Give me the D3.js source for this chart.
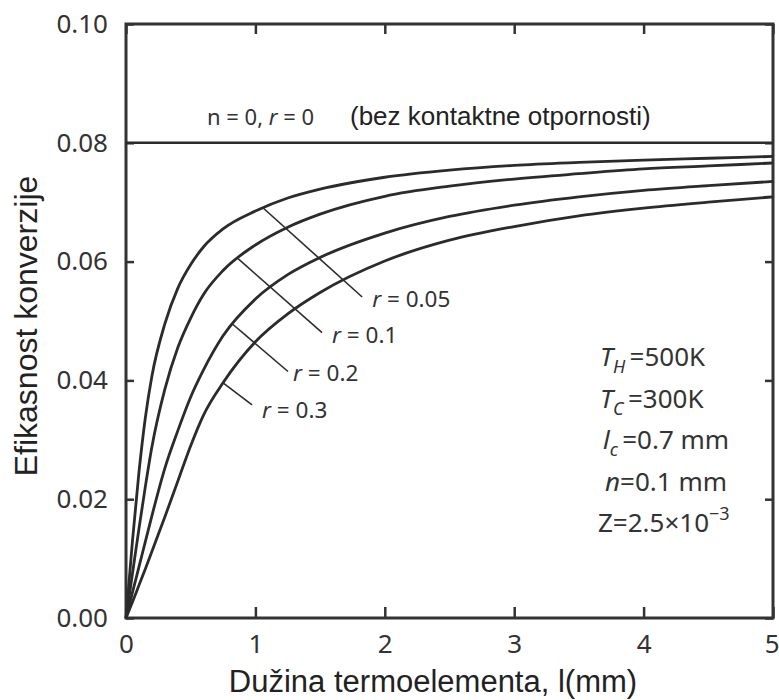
<!DOCTYPE html>
<html>
<head>
<meta charset="utf-8">
<script src="https://cdn.jsdelivr.net/npm/d3@7/dist/d3.min.js"></script>
<style>
	body{margin:0;background:#fff;}
</style>
</head>
<body>
<div id="chart"></div>
<script>

	"use strict";

	// element length l (mm) where the curves were read
	var lengths = [0, 0.05, 0.1, 0.15, 0.2, 0.3, 0.4, 0.5, 0.6, 0.75, 1, 1.25, 1.5, 2, 2.5, 3, 3.5, 4, 4.5, 5];

	// conversion efficiency for each contact resistance ratio r
	var effR005 = [0, 0.013, 0.0245, 0.0338, 0.0407, 0.0495, 0.0555, 0.0595, 0.0625, 0.0655, 0.0685, 0.0707, 0.0722, 0.0742, 0.0754, 0.0762, 0.0767, 0.0771, 0.0774, 0.0777];
	var effR01  = [0, 0.0075, 0.015, 0.0222, 0.0288, 0.0385, 0.0455, 0.0505, 0.0545, 0.0585, 0.0628, 0.0658, 0.0680, 0.0710, 0.0727, 0.0739, 0.0748, 0.0756, 0.0761, 0.0766];
	var effR02  = [0, 0.0043, 0.0086, 0.0129, 0.0172, 0.0252, 0.0315, 0.0372, 0.0418, 0.0475, 0.0537, 0.0578, 0.0607, 0.0648, 0.0676, 0.0695, 0.0709, 0.0720, 0.0728, 0.0735];
	var effR03  = [0, 0.0027, 0.0055, 0.0083, 0.0112, 0.017, 0.023, 0.029, 0.0342, 0.0396, 0.0465, 0.0512, 0.0548, 0.0601, 0.0636, 0.0659, 0.0677, 0.0690, 0.0700, 0.0709];

	var seriesNames = ["0.05", "0.1", "0.2", "0.3"];
	var seriesValues = [effR005, effR01, effR02, effR03];

	// no contact resistance (n = 0, r = 0)
	var effNoContact = 0.08;

	var xTicks = [0, 1, 2, 3, 4, 5];
	var yTicks = [0, 0.02, 0.04, 0.06, 0.08, 0.10];

	var xTitle = "Dužina termoelementa, l(mm)";
	var yTitle = "Efikasnost konverzije";

	// parameter box, pieces: [text, italic, sub/sup]
	var params = [
		[["T", 1], ["H", 1, "sub"], ["\u2009=500K"]],
		[["T", 1], ["C", 1, "sub"], ["\u2009=300K"]],
		[["l", 1], ["c", 1, "sub"], ["\u2009=0.7 mm"]],
		[["n", 1], ["=0.1 mm"]],
		[["Z=2.5×10"], ["\u22123", 0, "sup"]]
	];

	var W = 779, H = 700;
	var pLeft = 126, pRight = 773, pTop = 24, pBottom = 618;
	var ink = "#2b2b2b";
	var myriad = "'Noto Sans', sans-serif";
	var arial = "'Liberation Sans', Arial, sans-serif";

	var svg = d3.select("#chart")
				.append("svg")
				.attr("width", W)
				.attr("height", H);

	var x = d3.scaleLinear().domain([0, 5]).range([pLeft, pRight]);
	var y = d3.scaleLinear().domain([0, 0.1]).range([pBottom, pTop]);

	function styleAxis(g){
		g.select(".domain").remove();
		g.selectAll(".tick line").attr("stroke", "#333").attr("stroke-width", 2.5);
		g.selectAll(".tick text")
			.attr("fill", "#333")
			.style("font-family", myriad)
			.style("font-size", "26px");
	}

	// axes, ticks pointing inward
	var xAxisG = svg.append("g")
		.attr("transform", "translate(0," + pBottom + ")")
		.call(d3.axisBottom(x).tickValues(xTicks).tickSizeInner(-11).tickSizeOuter(0).tickPadding(17).tickFormat(d3.format("d")))
		.call(styleAxis);

	// last label sits on the page edge, keep it inside
	xAxisG.selectAll(".tick text")
		.filter(function(d){ return d == 5; })
		.attr("text-anchor", "end")
		.attr("x", 6);

	svg.append("g")
		.attr("transform", "translate(0," + pTop + ")")
		.call(d3.axisTop(x).tickValues(xTicks).tickSizeInner(-10).tickSizeOuter(0).tickFormat(""))
		.call(styleAxis);

	svg.append("g")
		.attr("transform", "translate(" + pLeft + ",0)")
		.call(d3.axisLeft(y).tickValues(yTicks).tickSizeInner(-8).tickSizeOuter(0).tickPadding(18).tickFormat(d3.format(".2f")))
		.call(styleAxis);

	svg.append("g")
		.attr("transform", "translate(" + pRight + ",0)")
		.call(d3.axisRight(y).tickValues(yTicks).tickSizeInner(-8).tickSizeOuter(0).tickFormat(""))
		.call(styleAxis);

	// frame
	svg.append("rect")
		.attr("x", pLeft)
		.attr("y", pTop)
		.attr("width", pRight - pLeft)
		.attr("height", pBottom - pTop)
		.style("fill", "none")
		.style("stroke", "#333")
		.style("stroke-width", 3);

	// r = 0 reference line
	svg.append("line")
		.attr("x1", x(0))
		.attr("x2", x(5))
		.attr("y1", y(effNoContact))
		.attr("y2", y(effNoContact))
		.style("stroke", ink)
		.style("stroke-width", 2.5);

	var topLabel = svg.append("text")
		.attr("x", 207)
		.attr("y", 125)
		.style("font-family", myriad)
		.style("font-size", "22px")
		.style("fill", "#333");
	topLabel.append("tspan").text("n = 0, ");
	topLabel.append("tspan").style("font-style", "italic").text("r");
	topLabel.append("tspan").text(" = 0");

	svg.append("text")
		.attr("x", 350)
		.attr("y", 125)
		.style("font-family", arial)
		.style("font-size", "26px")
		.style("fill", "#222")
		.text("(bez kontaktne otpornosti)");

	// curves
	var line = d3.line()
				.x(function(d){ return x(d[0]); })
				.y(function(d){ return y(d[1]); })
				.curve(d3.curveMonotoneX);

	seriesValues.forEach(function(vals){
		svg.append("path")
			.datum(lengths.map(function(l, i){ return [l, vals[i]]; }))
			.attr("d", line)
			.style("fill", "none")
			.style("stroke", ink)
			.style("stroke-width", 2.8);
	});

	// leader lines: start on curve at l = at, then go down-right to label
	var leaders = [
		{at: 1.06, dx: 99, dy: 89, lx: 10, ly: 10},
		{at: 0.866, dx: 84, dy: 74, lx: 10, ly: 10},
		{at: 0.827, dx: 55, dy: 47, lx: 5, ly: 9},
		{at: 0.75, dx: 29, dy: 22, lx: 10, ly: 13}
	];

	leaders.forEach(function(ld, i){
		var onCurve = d3.scaleLinear().domain(lengths).range(seriesValues[i]);
		var x0 = x(ld.at), y0 = y(onCurve(ld.at));

		svg.append("line")
			.attr("x1", x0)
			.attr("y1", y0)
			.attr("x2", x0 + ld.dx)
			.attr("y2", y0 + ld.dy)
			.style("stroke", ink)
			.style("stroke-width", 1.6);

		var t = svg.append("text")
			.attr("x", x0 + ld.dx + ld.lx)
			.attr("y", y0 + ld.dy + ld.ly)
			.style("font-family", myriad)
			.style("font-size", "22.5px")
			.style("fill", "#333");
		t.append("tspan").style("font-style", "italic").text("r");
		t.append("tspan").text(" = " + seriesNames[i]);
	});

	// parameter box
	var px = [600, 600, 603, 605, 598];
	params.forEach(function(p, i){
		var t = svg.append("text")
			.attr("x", px[i])
			.attr("y", 366 + i*41.5)
			.style("font-family", myriad)
			.style("font-size", "26px")
			.style("fill", "#333");
		var shift = 0;
		p.forEach(function(piece){
			var s = t.append("tspan").text(piece[0]);
			if (piece[1]) s.style("font-style", "italic");
			var want = piece[2] == "sub" ? 7 : piece[2] == "sup" ? -12 : 0;
			if (piece[2]) s.style("font-size", "18px");
			if (want != shift) { s.attr("dy", want - shift); shift = want; }
		});
	});

	// axis titles
	svg.append("text")
		.attr("x", 433)
		.attr("y", 692)
		.attr("text-anchor", "middle")
		.style("font-family", arial)
		.style("font-size", "31px")
		.style("fill", "#222")
		.text(xTitle);

	svg.append("text")
		.attr("transform", "translate(37," + 326 + ") rotate(-90)")
		.attr("text-anchor", "middle")
		.style("font-family", arial)
		.style("font-size", "32px")
		.style("fill", "#222")
		.text(yTitle);

</script>
</body>
</html>
